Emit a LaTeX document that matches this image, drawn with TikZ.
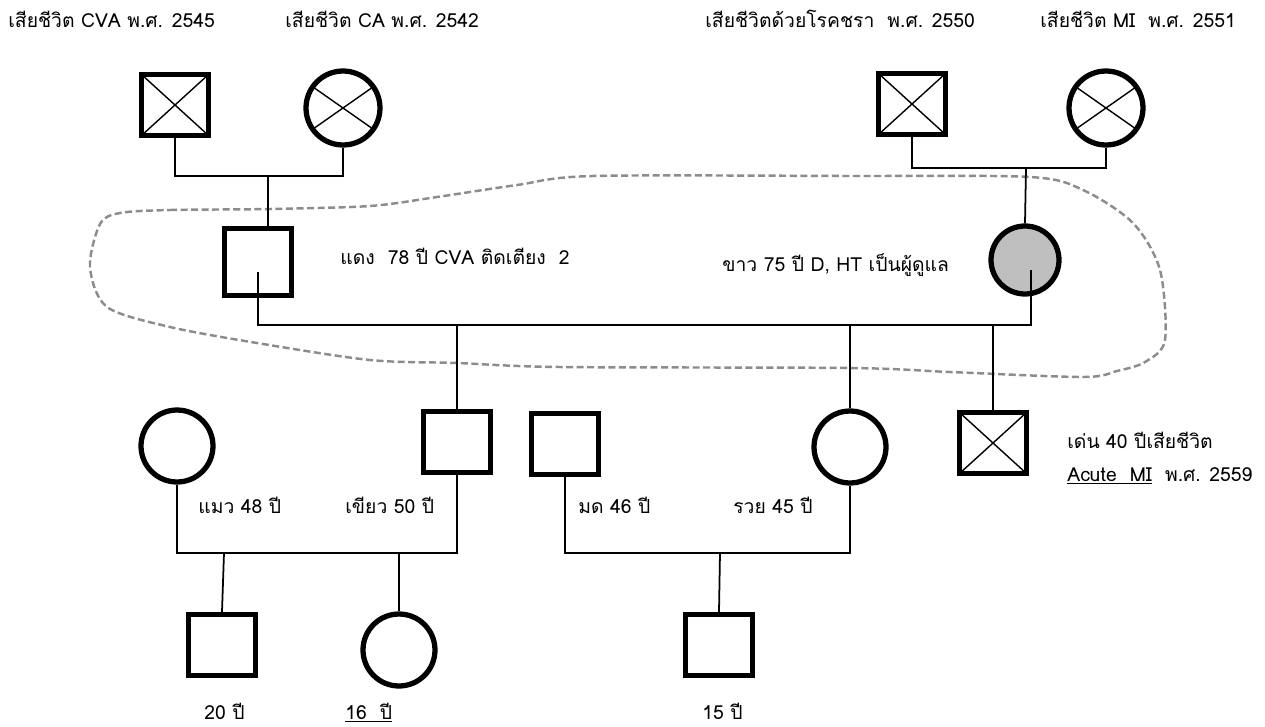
\documentclass[tikz,border=0pt]{standalone}
\usepackage{fontspec}
\setmainfont[Script=Thai]{Loma}
\begin{document}
\begin{tikzpicture}[x=0.02cm, y=-0.02cm,
  male/.style={draw, line width=3pt, minimum width=1.34cm, minimum height=1.22cm, inner sep=0pt, fill=white},
  female/.style={draw, circle, line width=3pt, minimum size=1.44cm, inner sep=0pt, fill=white},
  deads/.style={path picture={\draw[line width=0.8pt] (path picture bounding box.north west) -- (path picture bounding box.south east) (path picture bounding box.north east) -- (path picture bounding box.south west);}},
  deadc/.style={path picture={\draw[line width=0.8pt] (path picture bounding box.center) +(145:1cm) -- +(-35:1cm) (path picture bounding box.center) +(35:1cm) -- +(215:1cm);}},
  link/.style={line width=1pt},
  lbl/.style={anchor=base west, inner sep=0pt, font=\fontsize{11}{13}\selectfont},
  care/.style={gray!90, line width=1.4pt, dash pattern=on 4pt off 2pt}]
\useasboundingbox (0,0) rectangle (1265,727);
% caregiver group
\draw[care] plot[smooth cycle, tension=0.5] coordinates {(120,213) (170,210) (270,209) (370,206) (437,197) (517,185) (593,176) (850,176) (1030,177) (1083,190) (1133,223) (1160,270) (1165,340) (1145,362) (1117,371) (1083,377) (950,372) (850,368) (560,367) (457,363) (370,360) (257,343) (170,327) (107,307) (90,267) (100,224)};
% grandparents
\node[male, deads] (pgf) at (175,105) {};
\node[female, deadc, minimum size=1.48cm] (pgm) at (343,108) {};
\node[male, deads] (mgf) at (912,104) {};
\node[female, deadc, minimum size=1.48cm] (mgm) at (1106,108) {};
% parents
\node[male, minimum height=1.34cm] (dang) at (258,262) {};
\node[female, fill=gray!50, minimum size=1.36cm] (khao) at (1025,260) {};
% children and spouses
\node[female] (maew) at (177,446) {};
\node[male] (khiao) at (457,442) {};
\node[male] (mod) at (565,444) {};
\node[female] (ruai) at (850,447) {};
\node[male, deads] (den) at (993,443) {};
% grandchildren
\node[male] (gs1) at (222,645) {};
\node[female] (gd1) at (399,650) {};
\node[male] (gs2) at (719,645) {};
% lines
\coordinate (m1) at (268,176);
\draw[link] (pgf.south) |- (m1) -| (pgm.south);
\draw[link] (m1) -- (m1 |- dang.north);
\coordinate (m2) at (1026,168);
\draw[link] (mgf.south) |- (m2) -| (mgm.south);
\draw[link] (m2) -- (khao.north);
\coordinate (sib) at (457,325);
\draw[link] ([yshift=-0.2cm]dang.center) |- (sib) -| ([xshift=0.12cm, yshift=-0.2cm]khao.center);
\draw[link] (sib) -- (khiao.north);
\draw[link] (ruai.north |- sib) -- (ruai.north);
\draw[link] (den.north |- sib) -- (den.north);
\coordinate (f1) at (224,553);
\draw[link] (maew.south) |- (f1) -| (khiao.south);
\draw[link] (f1) -- (gs1.north);
\draw[link] (gd1.north |- f1) -- (gd1.north);
\coordinate (f2) at (720,553);
\draw[link] (mod.south) |- (f2) -| (ruai.south);
\draw[link] (f2) -- (gs2.north);
% labels
\node[lbl] (t1) at (8,27) {เสียชีวิต CVA พ.ศ. 2545};
\node[lbl] (t2) at (285,27) {เสียชีวิต CA พ.ศ. 2542};
\node[lbl] (t3) at (705,27) {เสียชีวิตด้วยโรคชรา\ \ พ.ศ. 2550};
\node[lbl] (t4) at (1040,27) {เสียชีวิต MI\ \ พ.ศ. 2551};
\node[lbl] (tdang) at (340,264) {แดง\ \ 78 ปี CVA ติดเตียง\ \ 2};
\node[lbl] (tkhao) at (722,271) {ขาว 75 ปี D, HT เป็นผู้ดูแล};
\node[lbl] (tmaew) at (198,513) {แมว 48 ปี};
\node[lbl] (tkhiao) at (345,513) {เขียว 50 ปี};
\node[lbl] (tmod) at (578,513) {มด 46 ปี};
\node[lbl] (truai) at (733,513) {รวย 45 ปี};
\node[lbl] (tden) at (1067,448) {เด่น 40 ปีเสียชีวิต};
\node[lbl] (tmi) at (1067,481) {\underline{Acute\ \ MI}\ \ พ.ศ. 2559};
\node[lbl] (tgs1) at (204,719) {20 ปี};
\node[lbl] (tgd1) at (345,719) {\underline{16\ \ ปี}};
\node[lbl] (tgs2) at (702,719) {15 ปี};
\end{tikzpicture}
\end{document}
